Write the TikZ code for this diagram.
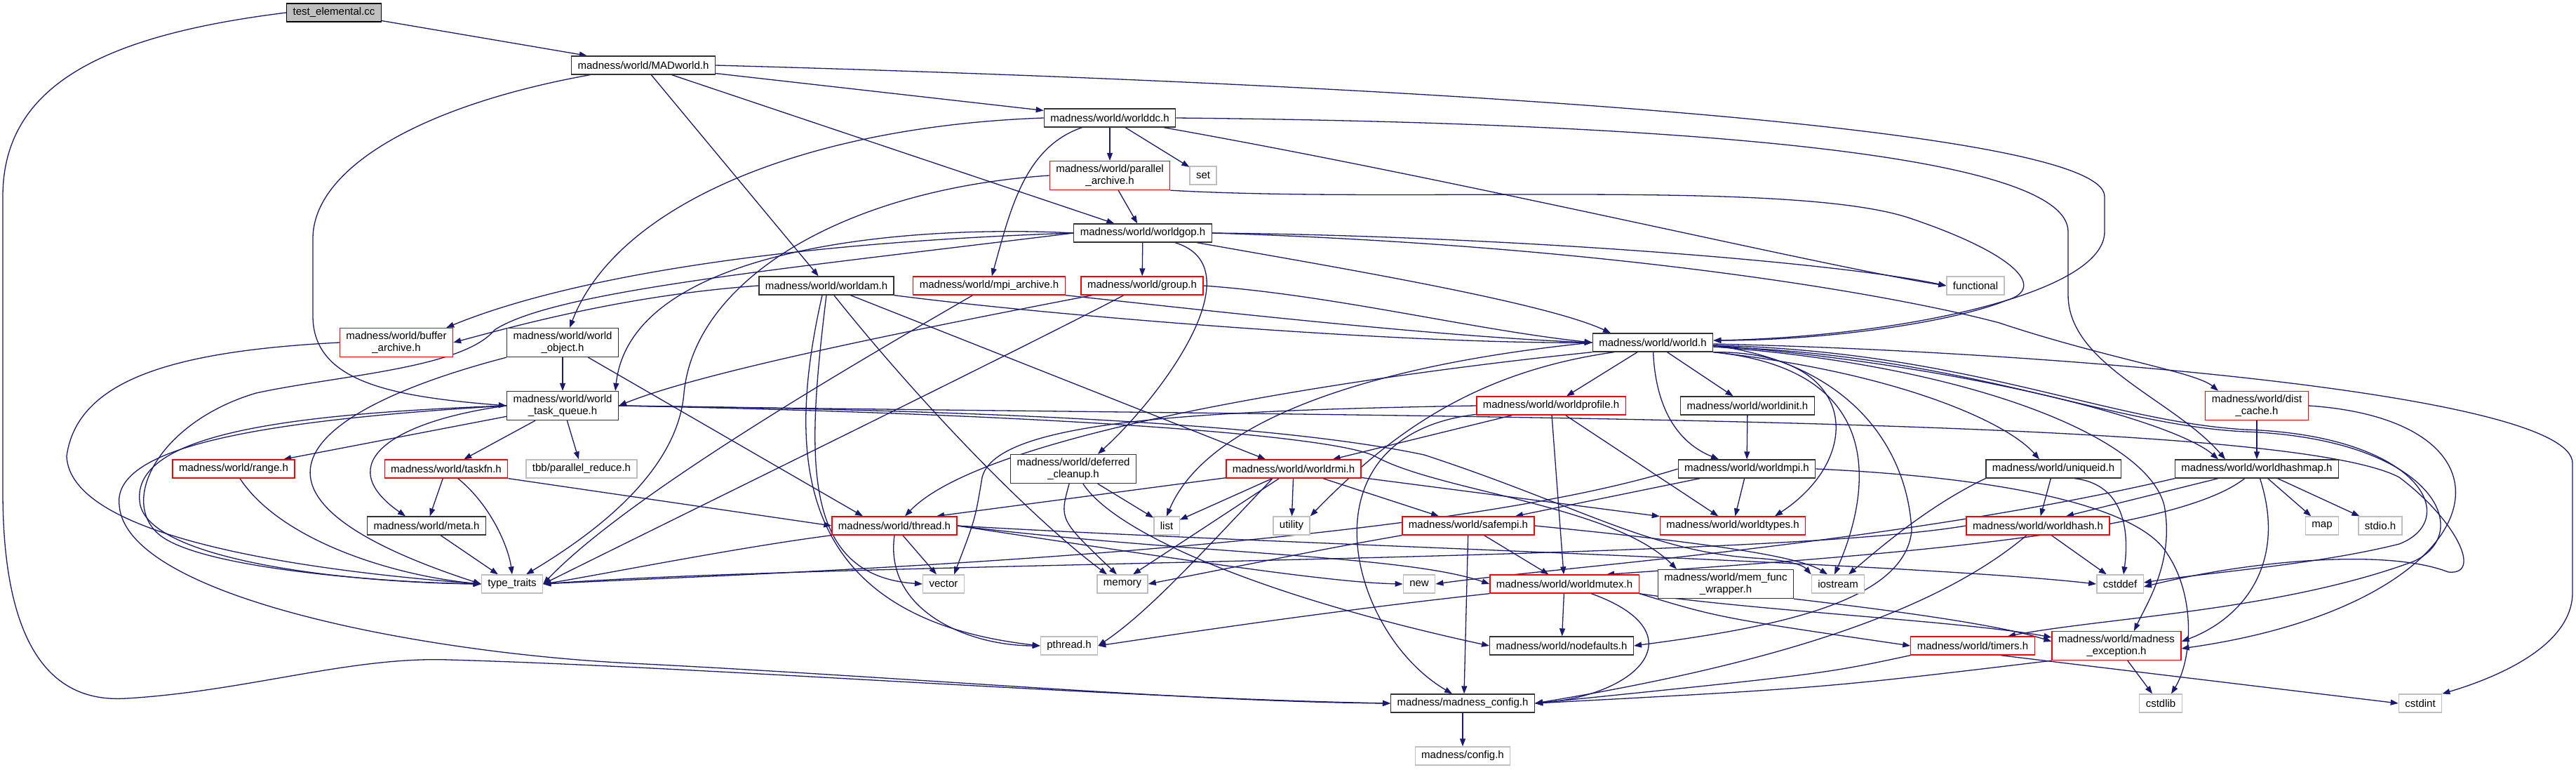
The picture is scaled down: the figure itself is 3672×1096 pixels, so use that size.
\documentclass[tikz,border=0pt]{standalone}
\usepackage{fontspec}
\setmainfont{Liberation Sans}
\definecolor{edgeblue}{RGB}{25,25,112}
\definecolor{sysgray}{RGB}{191,191,191}
\definecolor{hdrred}{RGB}{255,0,0}
\usetikzlibrary{arrows.meta, backgrounds}
\newcommand{\graphfont}{\fontsize{15pt}{17pt}\selectfont}

\begin{document}
\begin{tikzpicture}[x=1pt, y=-1pt,
  hfile/.style={draw=black!80, fill=white, line width=1.3pt, font=\graphfont,
    inner xsep=9pt, inner ysep=2pt, minimum height=26pt, align=center},
  redfile/.style={hfile, draw=hdrred},
  sysfile/.style={hfile, draw=sysgray},
  rootfile/.style={hfile, fill=sysgray, draw=black},
  twoline/.style={minimum height=41pt},
  arw/.style={-{Triangle[length=11pt, width=8pt]}, line width=1.3pt, edgeblue},
]
\useasboundingbox (0,0) rectangle (3672,1096);

\node[rootfile] (test) at (476,18) {test\_elemental.cc};
\node[hfile] (madworld) at (917,93) {madness/world/MADworld.h};
\node[hfile] (worlddc) at (1582,168) {madness/world/worlddc.h};
\node[redfile, twoline] (pararch) at (1582,250) {madness/world/parallel\\\_archive.h};
\node[sysfile] (stdset) at (1715,250) {set};
\node[hfile] (worldgop) at (1629,332) {madness/world/worldgop.h};
\node[hfile] (worldam) at (1178,407) {madness/world/worldam.h};
\node[redfile] (mpiarch) at (1410,407) {madness/world/mpi\_archive.h};
\node[redfile] (group) at (1628,407) {madness/world/group.h};
\node[sysfile] (functional) at (2816,407) {functional};
\node[redfile, twoline] (bufarch) at (565,488) {madness/world/buffer\\\_archive.h};
\node[hfile, twoline] (worldobj) at (802,488) {madness/world/world\\\_object.h};
\node[hfile] (world) at (2356,488) {madness/world/world.h};
\node[hfile, twoline] (taskq) at (802,578) {madness/world/world\\\_task\_queue.h};
\node[redfile] (profile) at (2211,578) {madness/world/worldprofile.h};
\node[hfile] (init) at (2491,578) {madness/world/worldinit.h};
\node[redfile, twoline] (distcache) at (3217,578) {madness/world/dist\\\_cache.h};
\node[redfile] (range) at (333,668) {madness/world/range.h};
\node[redfile] (taskfn) at (636,668) {madness/world/taskfn.h};
\node[sysfile] (tbb) at (829,668) {tbb/parallel\_reduce.h};
\node[hfile, twoline] (defclean) at (1530,668) {madness/world/deferred\\\_cleanup.h};
\node[redfile] (rmi) at (1844,668) {madness/world/worldrmi.h};
\node[hfile] (mpi) at (2490,668) {madness/world/worldmpi.h};
\node[hfile] (uniqueid) at (2927,668) {madness/world/uniqueid.h};
\node[hfile] (hashmap) at (3217,668) {madness/world/worldhashmap.h};
\node[hfile] (meta) at (608,749) {madness/world/meta.h};
\node[redfile] (thread) at (1275,749) {madness/world/thread.h};
\node[sysfile] (list) at (1663,749) {list};
\node[sysfile] (utility) at (1841,749) {utility};
\node[redfile] (safempi) at (2093,749) {madness/world/safempi.h};
\node[redfile] (types) at (2470,749) {madness/world/worldtypes.h};
\node[redfile] (hash) at (2905,749) {madness/world/worldhash.h};
\node[sysfile] (map) at (3310,749) {map};
\node[sysfile] (stdio) at (3393,749) {stdio.h};
\node[sysfile] (typetraits) at (730,832) {type\_traits};
\node[sysfile] (vector) at (1345,832) {vector};
\node[sysfile] (memory) at (1600,832) {memory};
\node[sysfile] (new) at (2023,832) {new};
\node[redfile] (mutex) at (2230,832) {madness/world/worldmutex.h};
\node[hfile, twoline] (memfunc) at (2460,832) {madness/world/mem\_func\\\_wrapper.h};
\node[sysfile] (iostream) at (2620,832) {iostream};
\node[sysfile] (cstddef) at (3022,832) {cstddef};
\node[sysfile] (pthread) at (1524,920) {pthread.h};
\node[hfile] (nodefaults) at (2226,920) {madness/world/nodefaults.h};
\node[redfile] (timers) at (2812,920) {madness/world/timers.h};
\node[redfile, twoline] (except) at (3017,920) {madness/world/madness\\\_exception.h};
\node[hfile] (mconfig) at (2085,1002) {madness/madness\_config.h};
\node[sysfile] (cstdlib) at (3080,1002) {cstdlib};
\node[sysfile] (cstdint) at (3450,1002) {cstdint};
\node[sysfile] (config) at (2085,1077) {madness/config.h};

\begin{scope}[on background layer]
\fill[white] (0,0) rectangle (3672,1096);

\draw[arw] (test) -- (madworld);
\draw[arw] (test.west) .. controls (150,50) and (4,120) .. (4,280) -- (4,700) .. controls (4,960) and (100,1000) .. (180,995) .. controls (350,985) and (500,935) .. (640,940) .. controls (1000,950) and (1600,995) .. (mconfig.west);

\draw[arw] (madworld) -- (worlddc);
\draw[arw] (madworld) -- (worldgop);
\draw[arw] (madworld) -- (worldam);
\draw[arw] (madworld) .. controls (600,150) and (446,240) .. (446,340) -- (446,450) .. controls (446,545) and (560,565) .. (taskq.west);
\draw[arw] (madworld.east) .. controls (2000,120) and (3000,180) .. (3000,280) -- (3000,330) .. controls (3000,420) and (2700,480) .. ([yshift=3pt]world.east);

\draw[arw] (worlddc) -- (pararch);
\draw[arw] (worlddc) -- (stdset);
\draw[arw] (worlddc) .. controls (1460,210) and (1440,300) .. (mpiarch);
\draw[arw] (worlddc.west) .. controls (1150,180) and (880,290) .. ([xshift=10pt]worldobj.north);
\draw[arw] (worlddc.east) .. controls (2400,175) and (2948,220) .. (2948,330) -- (2948,420) .. controls (2948,520) and (3100,570) .. ([xshift=-45pt]hashmap.north);
\draw[arw] (worlddc) .. controls (2100,260) and (2600,380) .. (functional.west);

\draw[arw] (pararch) -- (worldgop);
\draw[arw] (pararch.south east) .. controls (2000,290) and (2550,255) .. (2720,310) .. controls (2870,360) and (2920,410) .. (2860,428) .. controls (2780,460) and (2600,485) .. ([yshift=3pt]world.east);
\draw[arw] (pararch.west) .. controls (1200,270) and (990,400) .. (975,560) .. controls (965,680) and (830,770) .. ([xshift=20pt]typetraits.north);

\draw[arw] (worldgop) -- (group);
\draw[arw] (worldgop.west) .. controls (1000,350) and (750,420) .. ([xshift=-10pt]bufarch.north east);
\draw[arw] (worldgop.west) .. controls (1100,385) and (790,415) .. (705,470) .. controls (660,525) and (480,535) .. (365,560) .. controls (230,600) and (170,710) .. (225,760) .. controls (280,810) and (550,830) .. (typetraits.west);
\draw[arw] (worldgop.west) .. controls (1300,320) and (900,350) .. ([xshift=-5pt]taskq.north east);
\draw[arw] (worldgop.east) .. controls (2100,335) and (2600,370) .. (functional.west);
\draw[arw] (worldgop.east) .. controls (2300,350) and (2700,420) .. (2850,460) .. controls (3000,510) and (3130,530) .. ([xshift=-55pt]distcache.north);
\draw[arw] (worldgop) .. controls (1900,380) and (2200,430) .. ([xshift=-60pt]world.north);
\draw[arw] (worldgop) .. controls (1790,380) and (1660,560) .. ([xshift=35pt]defclean.north);

\draw[arw] (worldam.west) .. controls (900,420) and (750,460) .. (bufarch.east);
\draw[arw] (worldam.south east) .. controls (1500,450) and (2000,490) .. (world.west);
\draw[arw] (worldam) -- ([xshift=-40pt]rmi.north);
\draw[arw] (worldam) .. controls (1300,560) and (1460,730) .. ([xshift=-22pt]memory.north);
\draw[arw] (worldam.south) .. controls (1150,650) and (1140,820) .. (vector.west);
\draw[arw] ([xshift=-6pt]worldam.south) .. controls (1120,650) and (1130,880) .. (pthread.west);

\draw[arw] (mpiarch.south east) .. controls (1700,440) and (2050,480) .. (world.west);
\draw[arw] (mpiarch) .. controls (1250,500) and (900,700) .. (typetraits.east);

\draw[arw] (group.east) .. controls (1900,420) and (2100,470) .. (world.west);
\draw[arw] (group) .. controls (1300,470) and (1000,530) .. (taskq.east);
\draw[arw] (group) .. controls (1450,500) and (1000,720) .. (typetraits.east);

\draw[arw] (bufarch.west) .. controls (250,500) and (110,540) .. (95,650) .. controls (100,760) and (400,810) .. (typetraits.west);

\draw[arw] (worldobj) -- (taskq);
\draw[arw] (worldobj) -- ([xshift=-45pt]thread.north);
\draw[arw] (worldobj.south west) .. controls (450,580) and (280,700) .. (typetraits.west);

\draw[arw] (taskq) -- (range);
\draw[arw] (taskq) -- (taskfn);
\draw[arw] (taskq) -- (tbb);
\draw[arw] (taskq.west) .. controls (560,600) and (470,660) .. ([xshift=-30pt]meta.north);
\draw[arw] (taskq.west) .. controls (400,590) and (180,620) .. (200,720) .. controls (220,800) and (500,830) .. (typetraits.west);
\draw[arw] (taskq.west) .. controls (350,600) and (160,640) .. (170,720) .. controls (180,850) and (600,930) .. (900,945) .. controls (1300,965) and (1700,1000) .. (mconfig.west);
\draw[arw] (taskq.east) .. controls (1500,590) and (1900,620) .. (1960,650) .. controls (2050,700) and (2300,720) .. ([xshift=-70pt]memfunc.north);
\draw[arw] (taskq.east) .. controls (1500,585) and (1850,610) .. (2030,648) .. controls (2250,720) and (2350,785) .. (2500,795) .. controls (2550,798) and (2570,805) .. (iostream.north west);
\draw[arw] (taskq.east) .. controls (2000,595) and (3250,590) .. (3420,680) .. controls (3500,740) and (3540,820) .. (3490,815) .. controls (3400,780) and (3200,800) .. ([yshift=-4pt]cstddef.east);

\draw[arw] (range) .. controls (400,770) and (560,820) .. (typetraits.west);
\draw[arw] (taskfn) -- (meta);
\draw[arw] (taskfn) .. controls (700,720) and (725,780) .. (typetraits.north);
\draw[arw] (taskfn.south east) -- (thread.west);
\draw[arw] (meta) -- (typetraits);

\draw[arw] (defclean) -- (list);
\draw[arw] (defclean) .. controls (1510,740) .. ([xshift=-8pt]memory.north);
\draw[arw] (defclean) .. controls (1590,760) and (1800,850) .. (nodefaults.west);

\draw[arw] (rmi) -- ([xshift=60pt]thread.north);
\draw[arw] (rmi) -- (list);
\draw[arw] (rmi) -- (utility);
\draw[arw] (rmi) -- ([xshift=15pt]memory.north);
\draw[arw] ([xshift=-30pt]rmi.south) .. controls (1720,780) and (1640,870) .. (pthread.east);
\draw[arw] (rmi) -- (safempi);
\draw[arw] (rmi) -- (types);

\draw[arw] (profile) -- (rmi);
\draw[arw] (profile.west) .. controls (1700,585) and (1420,600) .. (1400,680) .. controls (1390,740) .. ([xshift=15pt]vector.north);
\draw[arw] (profile) .. controls (1850,620) and (1920,900) .. ([xshift=-15pt]mconfig.north);
\draw[arw] (profile) -- (mutex);
\draw[arw] (profile) -- (types);

\draw[arw] (init) -- (mpi);

\draw[arw] (mpi) -- (safempi);
\draw[arw] (mpi) -- (types);
\draw[arw] (mpi.east) .. controls (2850,680) and (3050,720) .. (3090,790) .. controls (3130,850) and (3125,940) .. ([xshift=15pt]cstdlib.north);
\draw[arw] (mpi.west) .. controls (2000,790) and (1000,820) .. (typetraits.east);

\draw[arw] (safempi) -- (mutex);
\draw[arw] (safempi) -- ([xshift=2pt]mconfig.north);
\draw[arw] (safempi.south west) .. controls (1900,780) .. (memory.east);
\draw[arw] (safempi.east) .. controls (2400,770) and (2560,790) .. ([xshift=-15pt]iostream.north);

\draw[arw] (mutex) -- (nodefaults);
\draw[arw] (mutex) .. controls (2420,900) and (2340,990) .. (mconfig.east);
\draw[arw] (mutex.south west) .. controls (1900,870) and (1700,900) .. (pthread.east);
\draw[arw] (mutex.south east) .. controls (2450,880) .. (timers.west);
\draw[arw] (mutex.south east) .. controls (2500,870) and (2800,885) .. ([yshift=12pt]except.west);

\draw[arw] (hashmap) -- ([xshift=40pt]hash.north);
\draw[arw] (hashmap.south west) .. controls (2700,775) and (2200,810) .. (new.east);
\draw[arw] (hashmap) .. controls (3100,760) and (2700,790) .. ([xshift=60pt]mutex.north);
\draw[arw] (hashmap) -- (map);
\draw[arw] (hashmap) -- (stdio);
\draw[arw] (hashmap) .. controls (3260,800) and (3200,880) .. ([yshift=6pt]except.east);

\draw[arw] (hash) -- (cstddef);
\draw[arw] (hash) .. controls (2750,880) and (2500,950) .. (mconfig.east);
\draw[arw] (hash.west) .. controls (2500,800) and (1200,800) .. (typetraits.east);

\draw[arw] ([xshift=30pt]uniqueid.south) .. controls (3030,690) and (3035,760) .. ([xshift=5pt]cstddef.north);
\draw[arw] (uniqueid) -- (hash);
\draw[arw] (uniqueid.south west) .. controls (2750,720) and (2680,780) .. ([xshift=15pt]iostream.north);

\draw[arw] (distcache) -- (hashmap);
\draw[arw] (distcache.east) .. controls (3620,600) and (3560,860) .. ([yshift=-4pt]except.east);

\draw[arw] ([xshift=40pt]timers.south) -- (cstdint.west);
\draw[arw] (timers.south west) .. controls (2600,960) .. (mconfig.east);
\draw[arw] (except) -- ([xshift=-12pt]cstdlib.north);
\draw[arw] (except.south west) .. controls (2600,980) .. (mconfig.east);
\draw[arw] (memfunc.south east) .. controls (2700,870) and (2850,890) .. ([yshift=6pt]except.west);

\draw[arw] (thread) -- ([xshift=-10pt]vector.north);
\draw[arw] (thread.south) .. controls (1260,870) and (1380,920) .. (pthread.west);
\draw[arw] (thread.south west) .. controls (1050,780) and (850,820) .. (typetraits.east);
\draw[arw] (thread.east) .. controls (1700,790) and (2000,790) .. (mutex.west);
\draw[arw] (thread.east) .. controls (1700,800) and (1900,830) .. (new.west);
\draw[arw] (thread.east) .. controls (1800,775) and (2700,800) .. (cstddef.west);

\draw[arw] (world) -- (profile);
\draw[arw] (world) .. controls (2360,580) and (2390,630) .. ([xshift=-40pt]mpi.north);
\draw[arw] (world) -- (init);
\draw[arw] (world.south west) .. controls (1900,540) and (1400,620) .. ([xshift=15pt]thread.north);
\draw[arw] (world.west) .. controls (1950,520) and (1720,600) .. (list.north);
\draw[arw] ([xshift=-55pt]world.south) .. controls (2100,530) and (1980,620) .. (utility.north east);
\draw[arw] (world.south east) .. controls (2700,530) and (2860,600) .. ([xshift=-20pt]uniqueid.north);
\draw[arw] ([yshift=-4pt]world.east) .. controls (2800,520) and (3100,600) .. ([xshift=-55pt]hashmap.north);
\draw[arw] (world.south east) .. controls (2650,500) and (2660,650) .. ([xshift=60pt]types.north);
\draw[arw] (world.south east) .. controls (2720,530) and (2650,740) .. ([xshift=-5pt]iostream.north);
\draw[arw] ([yshift=-4pt]world.east) .. controls (2650,520) and (2720,650) .. (2725,756) .. controls (2715,860) and (2520,895) .. (nodefaults.east);
\draw[arw] ([yshift=-4pt]world.east) .. controls (2800,500) and (3000,600) .. (3200,612) .. controls (3450,620) and (3510,740) .. (3420,775) .. controls (3300,805) and (3150,815) .. ([yshift=2pt]cstddef.east);
\draw[arw] ([yshift=-6pt]world.east) .. controls (2800,520) and (3060,620) .. (3085,720) .. controls (3100,800) and (3060,860) .. ([xshift=25pt]except.north);
\draw[arw] ([yshift=-2pt]world.east) .. controls (2900,500) and (3667,560) .. (3667,660) -- (3667,844) .. controls (3667,920) and (3560,965) .. (cstdint.north east);
\draw[arw] ([yshift=-6pt]world.east) .. controls (2800,505) and (3000,605) .. (3200,615) .. controls (3470,625) and (3530,760) .. (3440,800) .. controls (3250,870) and (3000,880) .. ([xshift=50pt]timers.north);

\draw[arw] (mconfig) -- (config);
\end{scope}
\end{tikzpicture}
\end{document}
